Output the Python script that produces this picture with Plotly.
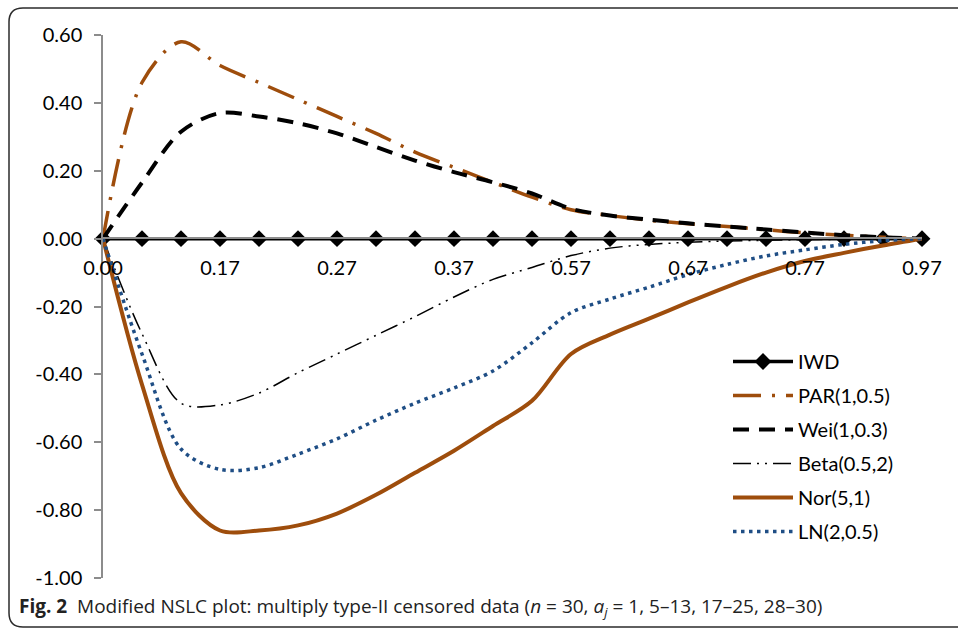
import plotly.graph_objects as go

# ---------------- data ----------------
x_index = list(range(22))
x_tick_positions = [0, 3, 6, 9, 12, 15, 18, 21]
x_tick_labels = ["0.00", "0.17", "0.27", "0.37", "0.57", "0.67", "0.77", "0.97"]

y_tick_values = [0.6, 0.4, 0.2, 0.0, -0.2, -0.4, -0.6, -0.8, -1.0]
y_tick_labels = ["0.60", "0.40", "0.20", "0.00", "-0.20", "-0.40", "-0.60", "-0.80", "-1.00"]

iwd = [0.0] * 22
par = [0.0, 0.46, 0.58, 0.51, 0.46, 0.41, 0.36, 0.31, 0.255, 0.21, 0.166, 0.122,
       0.085, 0.068, 0.054, 0.044, 0.036, 0.026, 0.017, 0.010, 0.004, 0.0]
wei = [0.0, 0.165, 0.315, 0.37, 0.36, 0.34, 0.31, 0.27, 0.23, 0.196, 0.166, 0.133,
       0.088, 0.068, 0.056, 0.045, 0.036, 0.027, 0.018, 0.010, 0.004, 0.0]
beta = [0.0, -0.28, -0.485, -0.49, -0.455, -0.395, -0.34, -0.285, -0.23, -0.172, -0.12, -0.085,
        -0.05, -0.028, -0.017, -0.011, -0.007, -0.005, -0.003, -0.002, -0.001, 0.0]
nor = [0.0, -0.43, -0.75, -0.86, -0.86, -0.845, -0.81, -0.755, -0.69, -0.625, -0.552, -0.478,
       -0.34, -0.283, -0.236, -0.188, -0.142, -0.100, -0.066, -0.042, -0.020, 0.0]
ln = [0.0, -0.34, -0.62, -0.68, -0.675, -0.635, -0.59, -0.535, -0.485, -0.44, -0.39, -0.307,
      -0.218, -0.178, -0.143, -0.106, -0.076, -0.051, -0.033, -0.017, -0.006, 0.0]

series_names = ["IWD", "PAR(1,0.5)", "Wei(1,0.3)", "Beta(0.5,2)", "Nor(5,1)", "LN(2,0.5)"]

BROWN = "#9E4D0C"
BLUE = "#1F4E85"
FONT = "Lato, Carlito, Calibri, sans-serif"

# ---------------- layout geometry ----------------
W, H = 958, 630
L, R, T, B = 103, 36, 35, 52
PW, PH = W - L - R, H - T - B


def fx(px):
    return (px - L) / PW


def fy(py):
    return (H - B - py) / PH


fig = go.Figure()

fig.add_trace(go.Scatter(
    x=x_index, y=iwd, name=series_names[0], mode="lines+markers",
    line=dict(color="black", width=3.5),
    marker=dict(symbol="diamond", size=13, color="black"),
    cliponaxis=False, legendgroup="g0"))

fig.add_trace(go.Scatter(
    x=x_index, y=par, name=series_names[1], mode="lines",
    line=dict(color=BROWN, width=3.5, dash="28px,11px,3px,11px", shape="spline", smoothing=0.9),
    legendgroup="g1"))

fig.add_trace(go.Scatter(
    x=x_index, y=wei, name=series_names[2], mode="lines",
    line=dict(color="black", width=4, dash="16px,10px", shape="spline", smoothing=0.9),
    legendgroup="g2"))

fig.add_trace(go.Scatter(
    x=x_index, y=beta, name=series_names[3], mode="lines",
    line=dict(color="black", width=1.5, dash="18px,6px,2px,6px,2px,6px", shape="spline", smoothing=0.9),
    legendgroup="g3"))

fig.add_trace(go.Scatter(
    x=x_index, y=nor, name=series_names[4], mode="lines",
    line=dict(color=BROWN, width=4, shape="spline", smoothing=0.9),
    legendgroup="g4"))

fig.add_trace(go.Scatter(
    x=x_index, y=ln, name=series_names[5], mode="lines",
    line=dict(color=BLUE, width=3.5, dash="3.5px,4.5px", shape="spline", smoothing=0.9),
    legendgroup="g5"))

# rounded frame around figure
x0, y0, x1, y1, r = fx(9), fy(8), fx(990), fy(627), 14
rx, ry = r / PW, r / PH
path = (f"M {x0 + rx} {y0} L {x1 - rx} {y0} Q {x1} {y0} {x1} {y0 - ry} "
        f"L {x1} {y1 + ry} Q {x1} {y1} {x1 - rx} {y1} L {x0 + rx} {y1} "
        f"Q {x0} {y1} {x0} {y1 + ry} L {x0} {y0 - ry} Q {x0} {y0} {x0 + rx} {y0} Z")

fig.update_layout(
    width=W, height=H,
    margin=dict(l=L, r=R, t=T, b=B),
    paper_bgcolor="white", plot_bgcolor="white",
    font=dict(family=FONT, size=20, color="black"),
    showlegend=True,
    legend=dict(x=fx(728), y=fy(342), xanchor="left", yanchor="top",
                bgcolor="rgba(0,0,0,0)", font=dict(size=20, family=FONT),
                tracegroupgap=5, itemwidth=60, traceorder="grouped"),
    xaxis=dict(range=[0, 21], anchor="free", position=fy(238),
               tickvals=x_tick_positions, ticktext=x_tick_labels,
               showline=True, linecolor="#8c8c8c", linewidth=1.5,
               ticks="", showgrid=False, zeroline=False, ticklabelstandoff=12,
               tickfont=dict(size=20, family=FONT)),
    yaxis=dict(range=[-1.0, 0.6], tickvals=y_tick_values, ticktext=y_tick_labels,
               showline=True, linecolor="#8c8c8c", linewidth=1.5,
               ticks="outside", ticklen=7, tickcolor="#8c8c8c", tickwidth=1.5,
               showgrid=False, zeroline=False, ticklabelstandoff=8,
               tickfont=dict(size=20, family=FONT)),
    shapes=[dict(type="path", xref="paper", yref="paper", path=path,
                 line=dict(color="#2b2b2b", width=1.5), layer="below")],
    annotations=[dict(
        xref="paper", yref="paper", x=fx(17), y=fy(607), xanchor="left", yanchor="middle",
        showarrow=False,
        text=("<b>Fig. 2</b>  Modified NSLC plot: multiply type-II censored data "
              "(<i>n</i> = 30, <i>a<sub>j</sub></i> = 1, 5–13, 17–25, 28–30)"),
        font=dict(family="Open Sans, sans-serif", size=19, color="#222"))],
)

fig.write_html("out.html")
